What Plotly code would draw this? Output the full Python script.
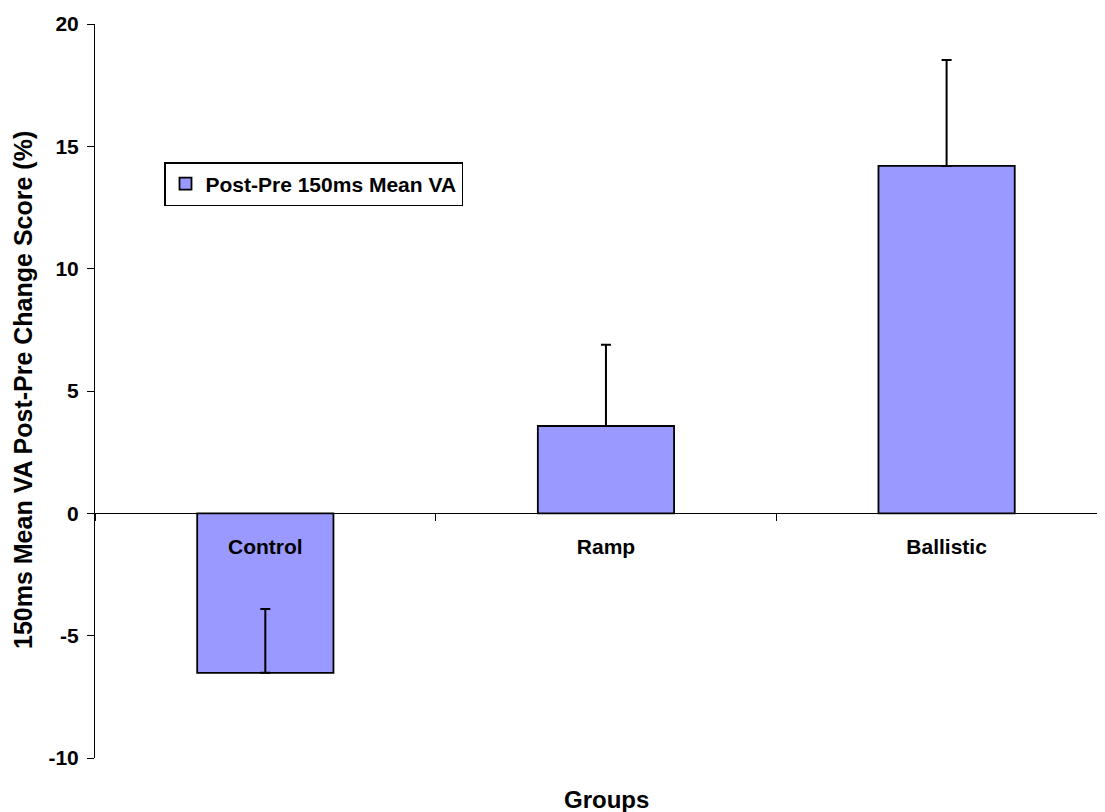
import plotly.graph_objects as go

groups = ["Control", "Ramp", "Ballistic"]
change_scores = [-6.52, 3.57, 14.2]
error_plus = [2.61, 3.32, 4.33]
series_name = "Post-Pre 150ms Mean VA"
y_ticks = [-10, -5, 0, 5, 10, 15, 20]
y_tick_text = ["-10", "-5", "0", "5", "10", "15", "20"]

FONT = "Arial, 'Liberation Sans', sans-serif"

# page body has an 8px margin, so the figure is sized to fill the rest of the window
W, H = 1097, 804
L, T, B = 87, 16, 54
PW, PH = W - L, H - T - B

fig = go.Figure()
fig.add_trace(go.Bar(
    x=groups,
    y=change_scores,
    name=series_name,
    width=0.4,
    marker=dict(color="#9999FF", line=dict(color="#000000", width=1.8)),
    error_y=dict(type="data", symmetric=False, array=error_plus,
                 arrayminus=[0, 0, 0], color="#000000", thickness=2, width=5),
    showlegend=True,
))

fig.update_layout(
    width=W, height=H,
    margin=dict(l=L, r=0, t=T, b=B, pad=0),
    paper_bgcolor="white", plot_bgcolor="white",
    font=dict(family=FONT, size=21, color="black", weight="bold"),
    showlegend=True,
    legend=dict(
        x=(156 - L) / PW, y=(T + PH - 154) / PH, xanchor="left", yanchor="top",
        bgcolor="white", bordercolor="black", borderwidth=1.5,
        font=dict(family=FONT, size=21, color="black", weight="bold"),
        itemwidth=30,
    ),
    xaxis=dict(
        type="category",
        range=[-0.5, 2.465],
        anchor="free", position=1/3,
        showline=True, linecolor="black", linewidth=1,
        ticks="outside", ticklen=7, tickcolor="black",
        tickson="boundaries",
        showgrid=False, zeroline=False,
        ticklabelstandoff=14,
        tickfont=dict(family=FONT, size=21, color="black", weight="bold"),
    ),
    yaxis=dict(
        range=[-10, 20],
        tickvals=y_ticks, ticktext=y_tick_text,
        showline=True, linecolor="black", linewidth=1,
        ticks="outside", ticklen=7, tickcolor="black",
        showgrid=False, zeroline=False,
        ticklabelstandoff=4,
        tickfont=dict(family=FONT, size=21, color="black", weight="bold"),
    ),
    annotations=[
        dict(text="150ms Mean VA Post-Pre Change Score (%)", textangle=-90,
             xref="paper", yref="paper", x=(15 - L) / PW, y=(T + PH - 382) / PH,
             xanchor="center", yanchor="middle", showarrow=False,
             font=dict(family=FONT, size=25, color="black", weight="bold")),
        dict(text="Groups",
             xref="paper", yref="paper", x=(598 - L) / PW, y=(T + PH - 791) / PH,
             xanchor="center", yanchor="middle", showarrow=False,
             font=dict(family=FONT, size=24, color="black", weight="bold")),
    ],
)

fig.write_html("out.html")
